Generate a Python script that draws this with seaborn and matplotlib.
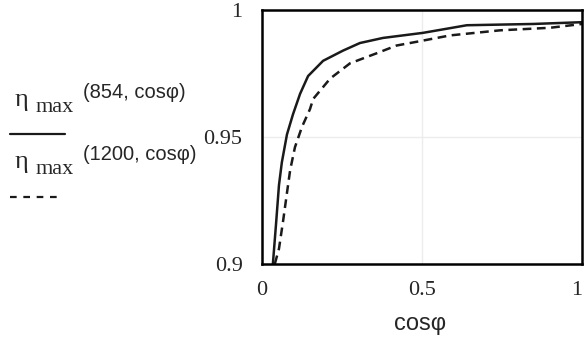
import matplotlib
matplotlib.use("Agg")
import matplotlib.pyplot as plt
from matplotlib.lines import Line2D
import seaborn as sns
import pandas as pd

# data
cos_854 = [0.034, 0.044, 0.053, 0.062, 0.078, 0.097, 0.119, 0.144, 0.191, 0.253,
           0.306, 0.378, 0.503, 0.64, 0.847, 1.0]
eta_854 = [0.9, 0.916, 0.931, 0.940, 0.951, 0.959, 0.967, 0.974, 0.980, 0.984,
           0.987, 0.989, 0.991, 0.994, 0.9945, 0.9952]
cos_1200 = [0.04, 0.053, 0.066, 0.078, 0.088, 0.103, 0.125, 0.15, 0.16, 0.213,
            0.275, 0.359, 0.42, 0.484, 0.588, 0.744, 0.9, 1.0]
eta_1200 = [0.9, 0.906, 0.917, 0.928, 0.937, 0.946, 0.954, 0.961, 0.965, 0.973,
            0.979, 0.983, 0.986, 0.9875, 0.990, 0.992, 0.993, 0.9945]
x_ticks = [0, 0.5, 1]
x_tick_labels = ["0", "0.5", "1"]
y_ticks = [0.9, 0.95, 1]
y_tick_labels = ["0.9", "0.95", "1"]

sns.set_theme(style="white")
plt.rcParams['font.family'] = ['Liberation Serif', 'DejaVu Serif']

W, H = 585, 340
fig = plt.figure(figsize=(W / 100, H / 100), dpi=100)
ax = fig.add_axes([262 / W, 1 - 264 / H, (582 - 262) / W, (264 - 10) / H])

df1 = pd.DataFrame({"x": cos_854, "y": eta_854})
df2 = pd.DataFrame({"x": cos_1200, "y": eta_1200})
sns.lineplot(data=df1, x="x", y="y", ax=ax, color="#1a1a1a", lw=1.8,
             sort=True, estimator=None)
sns.lineplot(data=df2, x="x", y="y", ax=ax, color="#1a1a1a", lw=1.8,
             linestyle=(0, (3.5, 2.2)), sort=True, estimator=None)

ax.set_xlim(0, 1)
ax.set_ylim(0.9, 1)
ax.axvline(0.5, color="#ececec", lw=1, zorder=0)
ax.axhline(0.95, color="#ececec", lw=1, zorder=0)
ax.set_xticks(x_ticks)
ax.set_xticklabels(x_tick_labels, fontsize=16)
ax.get_xticklabels()[-1].set_horizontalalignment("right")
ax.set_yticks(y_ticks)
ax.set_yticklabels(y_tick_labels, fontsize=16)
ax.tick_params(axis="x", length=0, pad=12)
ax.tick_params(axis="y", length=0, pad=14)
ax.set_xlabel("")
ax.set_ylabel("")
for s in ax.spines.values():
    s.set_visible(True)
    s.set_color("black")
    s.set_linewidth(1.8)

def fx(px):
    return px / W

def fy(py):
    return 1 - py / H

# x label
fig.text(fx(420), fy(324), "cosφ", fontsize=17, family=['Liberation Sans', 'DejaVu Sans'],
         ha="center", va="center")

# legend block
for (ytop, label) in [(100, "(854, cosφ)"), (162, "(1200, cosφ)")]:
    fig.text(fx(15), fy(ytop), "η", fontsize=19, ha="left", va="center")
    fig.text(fx(36), fy(ytop + 8), "max", fontsize=16, ha="left", va="center")
    fig.text(fx(83), fy(ytop - 7), label, fontsize=14.5,
             family=['Liberation Sans', 'DejaVu Sans'], ha="left", va="center")

fig.add_artist(Line2D([fx(10), fx(65)], [fy(134), fy(134)], color="#1a1a1a", lw=1.6))
fig.add_artist(Line2D([fx(10), fx(62)], [fy(197), fy(197)], color="#1a1a1a", lw=1.6,
                      linestyle=(0, (3, 3))))

fig.savefig("out.png", dpi=100)
